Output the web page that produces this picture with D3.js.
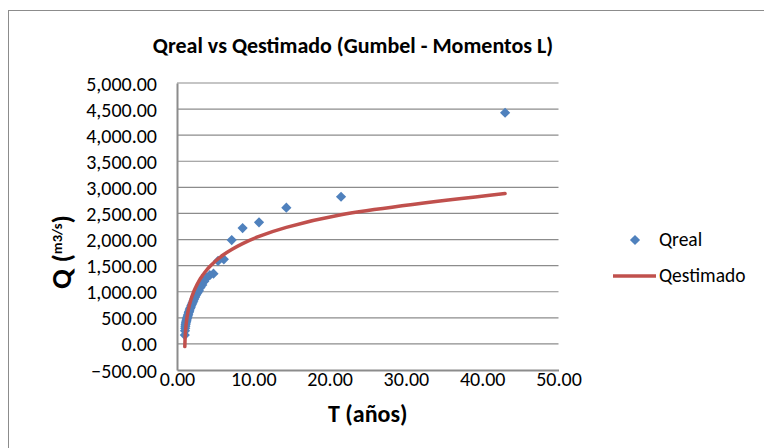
<!DOCTYPE html>
<html><head><meta charset="utf-8">
<script src="https://cdn.jsdelivr.net/npm/d3@7"></script>
<style>body{margin:0;background:#fff}svg{display:block}text{font-family:Carlito,Lato,sans-serif;fill:#000}</style>
</head><body><svg id="c" width="764" height="448"></svg>
<script>
// Return periods T (años), Weibull plotting positions for 42 years
const T = [43.00,21.50,14.33,10.75,8.60,7.17,6.14,5.38,4.78,4.30,3.91,3.58,3.31,3.07,2.87,2.69,2.53,2.39,2.26,2.15,2.05,1.95,1.87,1.79,1.72,1.65,1.59,1.54,1.48,1.43,1.39,1.34,1.30,1.26,1.23,1.19,1.16,1.13,1.10,1.075,1.05,1.024];
const Qreal = [4430,2820,2610,2330,2220,1990,1620,1590,1345,1320,1270,1200,1130,1080,1020,980,940,900,860,820,790,760,730,700,680,650,620,600,570,550,520,500,480,460,440,420,400,370,340,300,250,170];
const Qestimado = [2881,2474,2232,2059,1922,1809,1713,1628,1551,1482,1419,1360,1305,1253,1203,1156,1111,1068,1026,985,945,907,868,831,794,757,721,684,647,610,573,535,496,456,414,369,322,271,214,148,66,-52];
const xTicks = [0,10,20,30,40,50];
const yTicks = [-500,0,500,1000,1500,2000,2500,3000,3500,4000,4500,5000];
const title = "Qreal vs Qestimado (Gumbel - Momentos L)";
const xTitle = "T (años)";
const legendNames = ["Qreal","Qestimado"];

const svg = d3.select("#c");
const L=177,R=558.5,Tp=83,B=370;
const x = d3.scaleLinear().domain([0,50]).range([L,R]);
const y = d3.scaleLinear().domain([-500,5000]).range([B,Tp]);
const fmt = d3.format(",.2f");

svg.append("rect").attr("x",8.5).attr("y",10.5).attr("width",900).attr("height",600)
  .attr("fill","none").attr("stroke","#8c8c8c").attr("stroke-width",1);

// gridlines
svg.append("g").selectAll("line").data(yTicks.filter(d=>d>-500)).join("line")
  .attr("x1",L).attr("x2",R).attr("y1",d=>y(d)).attr("y2",d=>y(d))
  .attr("stroke","#8c8c8c").attr("stroke-width",1.2);

// axes
const ya = svg.append("g").attr("transform",`translate(${L},0)`)
  .call(d3.axisLeft(y).tickValues(yTicks).tickFormat(fmt).tickSize(0).tickPadding(20));
ya.select(".domain").attr("stroke","#8c8c8c").attr("stroke-width",2);
ya.selectAll("text").style("font-size","20px").attr("dy","0.35em").attr("x",-20);

const xa = svg.append("g").attr("transform",`translate(0,${B})`)
  .call(d3.axisBottom(x).tickValues(xTicks).tickFormat(fmt).tickSize(0).tickPadding(2));
xa.select(".domain").attr("stroke","#8c8c8c").attr("stroke-width",2);
xa.selectAll("text").style("font-size","20px").attr("dy","0.71em");

// line
const line = d3.line().x(d=>x(d[0])).y(d=>y(d[1])).curve(d3.curveCatmullRom.alpha(0.5));
const est = T.map((t,i)=>[t,Qestimado[i]]).sort((a,b)=>a[0]-b[0]);
// points
const sq = d3.symbol().type(d3.symbolSquare).size(52);
svg.append("g").selectAll("path").data(T.map((t,i)=>[t,Qreal[i]])).join("path")
  .attr("d",sq).attr("transform",d=>`translate(${x(d[0])},${y(d[1])}) rotate(45)`)
  .attr("fill","#4F81BD");
svg.append("path").attr("d",line(est)).attr("fill","none").attr("stroke","#C0504D")
  .attr("stroke-width",3.5).attr("stroke-linecap","round").attr("stroke-linejoin","round");

// titles
svg.append("text").attr("x",353).attr("y",53).attr("text-anchor","middle")
  .style("font-size","22px").style("font-weight","bold").text(title);
svg.append("text").attr("x",(L+R)/2).attr("y",422).attr("text-anchor","middle")
  .style("font-size","24px").style("font-weight","bold").text(xTitle);
const yt = svg.append("text").attr("transform","translate(71,252) rotate(-90)")
  .attr("text-anchor","middle").style("font-weight","bold");
yt.append("tspan").style("font-size","29px").text("Q ");
yt.append("tspan").style("font-size","27px").text("(");
yt.append("tspan").style("font-size","14.5px").attr("dy","-9").text("m3/s");
yt.append("tspan").style("font-size","27px").attr("dy","9").text(")");

// legend
const lg = svg.append("g");
lg.append("path").attr("d",sq).attr("transform","translate(635,240) rotate(45)").attr("fill","#4F81BD");
lg.append("text").attr("x",659).attr("y",246).style("font-size","19.5px").text(legendNames[0]);
lg.append("line").attr("x1",613).attr("x2",656).attr("y1",276).attr("y2",276)
  .attr("stroke","#C0504D").attr("stroke-width",3.5);
lg.append("text").attr("x",659).attr("y",282).style("font-size","19.5px").text(legendNames[1]);
</script></body></html>
